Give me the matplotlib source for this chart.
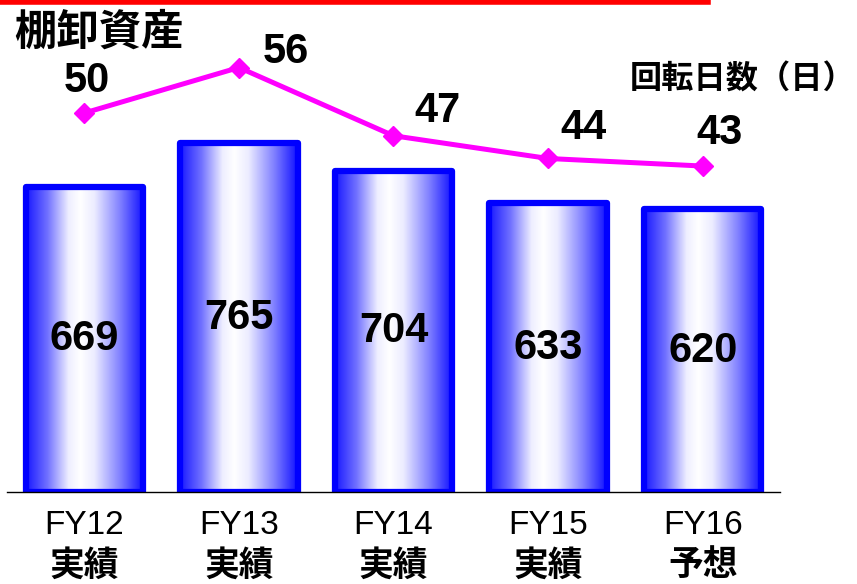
import numpy as np
import matplotlib
matplotlib.use("Agg")
import matplotlib.pyplot as plt
import matplotlib.transforms as mtransforms
from matplotlib.colors import LinearSegmentedColormap
from matplotlib.lines import Line2D

# data
years = ["FY12", "FY13", "FY14", "FY15", "FY16"]
kinds = ["実績", "実績", "実績", "実績", "予想"]
inventory = [669, 765, 704, 633, 620]
turnover_days = [50, 56, 47, 44, 43]

W, H = 857, 584
fig = plt.figure(figsize=(W / 100, H / 100), dpi=100)

def fx(px):
    return px / W

def fy(py):
    return 1 - py / H

base_px = 492
ax = fig.add_axes([fx(7), fy(base_px), fx(780) - fx(7), fy(0) - fy(base_px)])
ax2 = ax.twinx()

x = np.arange(len(years))
cmap = LinearSegmentedColormap.from_list(
    "bar", [(0.0, "#1818ff"), (0.18, "#7070ff"), (0.36, "#eeeeff"),
            (0.46, "#ffffff"), (0.58, "#ececff"), (0.8, "#8080ff"), (1.0, "#1010ff")])
grad = np.linspace(0, 1, 256).reshape(1, -1)

bars = ax.bar(x, inventory, width=0.76, facecolor="none", edgecolor="#0000ff",
              linewidth=4.5, joinstyle="round", zorder=3)
for b in bars:
    x0 = b.get_x()
    im = ax.imshow(grad, cmap=cmap, aspect="auto", zorder=2,
                   extent=(x0, x0 + b.get_width(), 0, b.get_height()))
    im.set_clip_path(b)

ax.set_xlim(-0.5, len(years) - 0.5)
ax.set_ylim(0, base_px / 0.456)
ax2.set_ylim(0, base_px / 7.58)

for xi, v in zip(x, inventory):
    ax.text(xi, v / 2, str(v), ha="center", va="center", fontsize=30,
            fontweight="bold", family="Liberation Sans", zorder=5)

ax2.plot(x, turnover_days, color="#ff00ff", linewidth=3.6, marker="D",
         markersize=10, zorder=6)
label_offsets = [(3, 32), (47, 16), (44, 25), (35, 30), (17, 33)]
for xi, v, off in zip(x, turnover_days, label_offsets):
    ax2.annotate(str(v), (xi, v), xytext=off, textcoords="offset pixels",
                 ha="center", va="center", fontsize=30, fontweight="bold",
                 family="Liberation Sans")

for a in (ax, ax2):
    for s in ("top", "right", "left"):
        a.spines[s].set_visible(False)
    a.set_yticks([])
ax.spines["bottom"].set_color("black")
ax.spines["bottom"].set_linewidth(1)
ax.spines["bottom"].set_zorder(4)
ax2.spines["bottom"].set_visible(False)
ax.set_xticks([])

# category labels
trans = mtransforms.blended_transform_factory(ax.transData, fig.transFigure)
for xi, yr, kd in zip(x, years, kinds):
    ax.text(xi, fy(525), yr, transform=trans, ha="center", va="center",
            fontsize=24, family="Liberation Sans")
    ax.text(xi, fy(565), kd, transform=trans, ha="center", va="center",
            fontsize=25, fontweight="bold", family="Noto Sans CJK JP")

fig.text(fx(14), fy(33), "棚卸資産", ha="left", va="center", fontsize=30.5,
         fontweight="bold", family="Noto Sans CJK JP")
fig.text(fx(855), fy(79), "回転日数（日）", ha="right", va="center", fontsize=23.2,
         fontweight="bold", family="Noto Sans CJK JP")

fig.add_artist(Line2D([0, fx(708)], [fy(2), fy(2)], transform=fig.transFigure,
                      color="#ff0000", linewidth=4))

fig.savefig("out.png", dpi=100)
